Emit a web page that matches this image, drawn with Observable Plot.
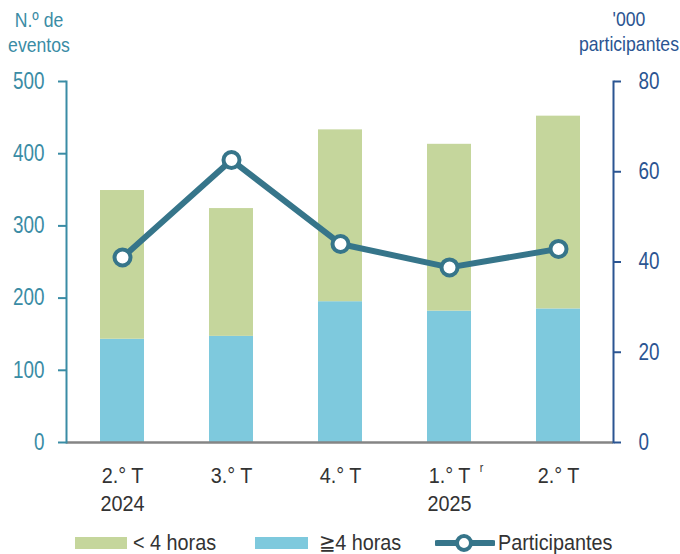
<!DOCTYPE html>
<html>
<head>
<meta charset="utf-8">
<script src="https://cdn.jsdelivr.net/npm/d3@7"></script>
<script src="https://cdn.jsdelivr.net/npm/@observablehq/plot@0.6"></script>
<style>
  body { margin: 0; background: #fff; }
  #chart { position: relative; width: 680px; height: 554px; overflow: hidden;
           font-family: "Liberation Sans Narrow", "Arial Narrow", "Liberation Sans", sans-serif; }
  #chart svg { position: absolute; left: 0; top: 0; }
  .title { position: absolute; font-size: 21px; line-height: 25px; text-align: center; white-space: nowrap;
           transform: scaleX(0.84); transform-origin: center top; }
  .leg { position: absolute; font-size: 22px; line-height: 22px; color: #333; white-space: nowrap;
         transform: scaleX(0.9); transform-origin: left top; }
  .sw { position: absolute; height: 12px; }
</style>
</head>
<body>
<div id="chart"></div>
<script>
// ---- data ----
const quarters = ["2.° T", "3.° T", "4.° T", "1.° T", "2.° T"];
const years = ["2024", "", "", "2025", ""];
const revised = ["", "", "", "r", ""];
const longEvents = [143, 147, 195, 182, 185];     // ≧4 horas
const shortEvents = [206, 177, 238, 231, 267];    // < 4 horas
const participants = [41.0, 62.6, 44.0, 38.8, 42.9]; // '000 participantes
const leftTicks = [0, 100, 200, 300, 400, 500];
const rightTicks = [0, 20, 40, 60, 80];
const seriesNames = ["≧4 horas", "< 4 horas"];
const seriesColors = ["#7ec9dd", "#c5d69c"];
const lineColor = "#36758a";
const leftColor = "#3a8ca5";
const rightColor = "#2b5592";

const leftMax = 500, rightMax = 80;
const k = leftMax / rightMax;
const keys = quarters.map((_, i) => i);

const rows = [];
keys.forEach(i => {
  rows.push({ k: i, group: seriesNames[0], v: longEvents[i] });
  rows.push({ k: i, group: seriesNames[1], v: shortEvents[i] });
});

const font = '"Liberation Sans Narrow", "Arial Narrow", "Liberation Sans", sans-serif';

const plot = Plot.plot({
  width: 680,
  height: 554,
  marginLeft: 66,
  marginRight: 67,
  marginTop: 81,
  marginBottom: 112,
  style: { fontFamily: font, background: "transparent", overflow: "visible" },
  x: { type: "band", domain: keys, paddingInner: 0.6, paddingOuter: 0.3 },
  y: { domain: [0, leftMax] },
  color: { domain: seriesNames, range: seriesColors },
  marks: [
    Plot.barY(rows, { x: "k", y: "v", fill: "group", order: seriesNames }),
    Plot.ruleY([0], { stroke: "#858585", strokeWidth: 2.5 }),
    Plot.frame({ anchor: "left", stroke: leftColor, strokeWidth: 2 }),
    Plot.frame({ anchor: "right", stroke: rightColor, strokeWidth: 2 }),
    Plot.axisY({ anchor: "left", ticks: leftTicks, tickSize: 8, tickPadding: 14,
                 color: leftColor, strokeWidth: 2, fontSize: 23, label: null }),
    Plot.axisY({ anchor: "right", ticks: rightTicks.map(t => t * k), tickFormat: d => d / k,
                 tickSize: 7, tickPadding: 18, color: rightColor, strokeWidth: 2, fontSize: 23, label: null }),
    Plot.axisX({ tickSize: 0, tickPadding: 21, fontSize: 22, color: "#333", lineHeight: 1.27, label: null,
                 tickFormat: i => quarters[i] + (years[i] ? "\n" + years[i] : "") }),
    Plot.text(keys.filter(i => revised[i]), { x: i => i, text: i => revised[i], frameAnchor: "bottom",
                 lineAnchor: "top", dy: 20, dx: 32, fontSize: 13, fill: "#333" }),
    Plot.line(keys, { x: i => i, y: i => participants[i] * k, stroke: lineColor, strokeWidth: 6 }),
    Plot.dot(keys, { x: i => i, y: i => participants[i] * k, r: 8, fill: "white", stroke: lineColor, strokeWidth: 4 })
  ]
});

const chart = document.getElementById("chart");
chart.appendChild(plot);

// emulate a narrow (Arial Narrow-like) face by condensing glyphs horizontally
function condense(texts, f) {
  texts.forEach(t => {
    if (t.dataset.condensed) return;
    t.dataset.condensed = "1";
    const tspans = t.querySelectorAll("tspan");
    const targets = tspans.length ? Array.from(tspans) : [t];
    targets.forEach(el => {
      const len = el.getComputedTextLength();
      if (len > 0) {
        el.setAttribute("textLength", (len * f).toFixed(2));
        el.setAttribute("lengthAdjust", "spacingAndGlyphs");
      }
    });
  });
}
condense(plot.querySelectorAll('g[aria-label="x-axis tick label"] text'), 0.9);
condense(plot.querySelectorAll("text"), 0.82);

function addDiv(cls, html, style) {
  const d = document.createElement("div");
  d.className = cls;
  d.innerHTML = html;
  Object.assign(d.style, style);
  chart.appendChild(d);
  return d;
}
// axis titles
addDiv("title", "N.º de<br>eventos", { left: "0px", top: "7px", width: "78px", color: leftColor });
addDiv("title", "'000<br>participantes", { left: "559px", top: "6px", width: "140px", color: rightColor });

// legend
addDiv("sw", "", { left: "75px", top: "537px", width: "52px", background: seriesColors[1] });
addDiv("leg", seriesNames[1], { left: "133px", top: "532px" });
addDiv("sw", "", { left: "255px", top: "537px", width: "53px", background: seriesColors[0] });
addDiv("leg", seriesNames[0], { left: "319px", top: "532px" });
addDiv("sw", '<svg width="60" height="24"><line x1="2" y1="12" x2="58" y2="12" stroke="' + lineColor +
  '" stroke-width="6" stroke-linecap="round"/><circle cx="29" cy="12" r="7" fill="white" stroke="' + lineColor +
  '" stroke-width="4"/></svg>', { left: "435px", top: "531px", height: "24px", width: "60px" });
addDiv("leg", "Participantes", { left: "498px", top: "532px" });
</script>
</body>
</html>
